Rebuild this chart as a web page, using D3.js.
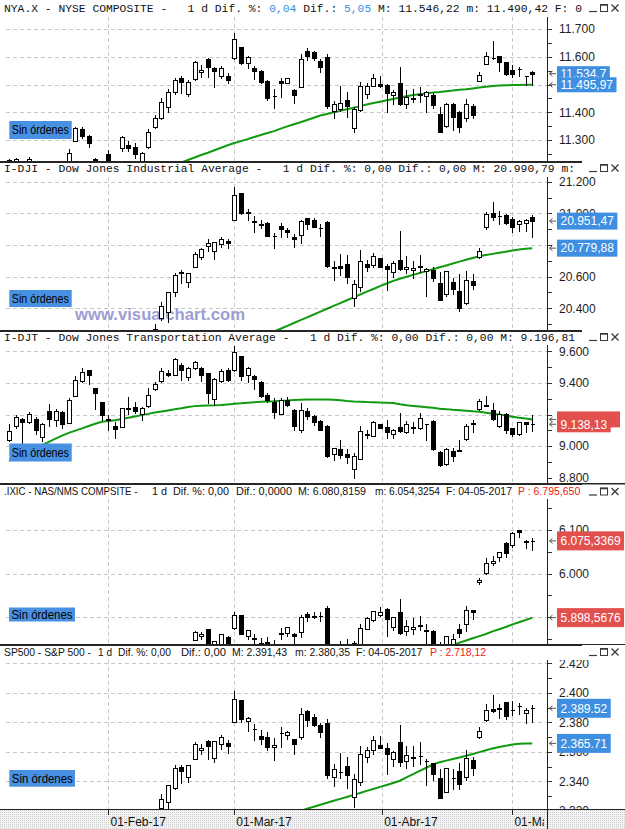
<!DOCTYPE html>
<html><head><meta charset="utf-8">
<script src="https://cdn.jsdelivr.net/npm/d3@7/dist/d3.min.js"></script>
<style>
html,body{margin:0;padding:0;background:#fff;}
svg{display:block;}
</style></head><body>
<svg id="chart" width="625" height="829"></svg>
<script>
// ---------- DATA ----------
const dates = ["2017-01-10","2017-01-11","2017-01-12","2017-01-13","2017-01-17","2017-01-18","2017-01-19","2017-01-20","2017-01-23","2017-01-24","2017-01-25","2017-01-26","2017-01-27","2017-01-30","2017-01-31",
"2017-02-01","2017-02-02","2017-02-03","2017-02-06","2017-02-07","2017-02-08","2017-02-09","2017-02-10","2017-02-13","2017-02-14","2017-02-15","2017-02-16","2017-02-17","2017-02-21","2017-02-22","2017-02-23","2017-02-24","2017-02-27","2017-02-28",
"2017-03-01","2017-03-02","2017-03-03","2017-03-06","2017-03-07","2017-03-08","2017-03-09","2017-03-10","2017-03-13","2017-03-14","2017-03-15","2017-03-16","2017-03-17","2017-03-20","2017-03-21","2017-03-22","2017-03-23","2017-03-24","2017-03-27","2017-03-28","2017-03-29","2017-03-30","2017-03-31",
"2017-04-03","2017-04-04","2017-04-05","2017-04-06","2017-04-07","2017-04-10","2017-04-11","2017-04-12","2017-04-13","2017-04-17","2017-04-18","2017-04-19","2017-04-20","2017-04-21","2017-04-24","2017-04-25","2017-04-26","2017-04-27","2017-04-28",
"2017-05-01","2017-05-02","2017-05-03","2017-05-04"];

const monthTicks = ["2017-02-01","2017-03-01","2017-04-01","2017-05-01"];
const monthLabels = ["01-Feb-17","01-Mar-17","01-Abr-17","01-May-17"];

// NYSE Composite
const nyaOpen = [11210,11212,11215,11215,11215,11205,11210,11200,11210,11222,11298,11340,11314,11232,11210,11248,11215,11270,11282,11274,11222,11276,11348,11378,11420,11472,11525,11466,11519,11544,11591,11561,11532,11531,11594,11634,11576,11561,11549,11513,11460,11513,11507,11480,11492,11621,11616,11585,11598,11406,11411,11444,11342,11407,11465,11496,11502,11498,11462,11504,11429,11447,11462,11457,11462,11394,11352,11429,11402,11378,11424,11514,11575,11595,11601,11580,11552,11557,11531,11544];
const nyaHigh = [11232,11236,11220,11240,11220,11220,11215,11222,11218,11268,11346,11347,11318,11236,11225,11264,11225,11316,11296,11288,11256,11340,11390,11450,11483,11525,11531,11516,11585,11570,11594,11564,11568,11540,11684,11636,11601,11568,11552,11515,11484,11522,11525,11482,11609,11630,11621,11591,11609,11441,11495,11472,11420,11508,11504,11537,11531,11501,11480,11562,11480,11484,11492,11477,11468,11420,11432,11432,11405,11448,11429,11544,11616,11657,11602,11581,11570,11564,11532,11549];
const nyaLow = [11205,11200,11180,11210,11190,11195,11180,11195,11195,11215,11295,11308,11276,11195,11190,11205,11200,11260,11260,11234,11215,11272,11345,11374,11402,11466,11468,11460,11515,11528,11528,11491,11522,11504,11592,11573,11561,11519,11504,11444,11414,11456,11504,11432,11490,11588,11588,11544,11417,11378,11406,11384,11330,11405,11450,11494,11492,11400,11429,11426,11414,11436,11438,11400,11414,11328,11348,11336,11330,11368,11378,11512,11573,11592,11550,11534,11527,11531,11498,11498];
const nyaClose = [11228,11231,11205,11232,11200,11215,11190,11215,11205,11252,11342,11316,11288,11210,11220,11215,11222,11312,11270,11248,11252,11328,11378,11436,11472,11515,11508,11510,11580,11552,11562,11549,11561,11516,11664,11579,11598,11550,11510,11453,11458,11504,11522,11462,11591,11604,11594,11562,11424,11429,11432,11424,11412,11495,11496,11522,11495,11468,11472,11429,11456,11450,11465,11474,11426,11330,11429,11384,11348,11429,11390,11533,11604,11594,11582,11539,11539,11556,11531,11539];
const nyaMA = [null,null,null,null,null,null,null,null,null,null,null,null,null,null,null,null,null,null,null,null,null,null,null,null,null,null,
11219,11228,11237,11246,11254,11263,11272,11281,11289,11296,11303,11311,11318,11325,11332,11341,11349,11357,11364,11372,11380,11388,11394,11400,11405,11411,11416,11422,11428,11433,11438,11443,11448,11453,11458,11462,11465,11468,11471,11473,11476,11478,11481,11483,11486,11489,11492,11495,11496,11497,11498,11498,11499,11499];
const nyaTicks = [11300,11400,11500,11600,11700];
const nyaBoxLabels = ["11.534,7","11.495,97"];

// Dow Jones Industrial
const djiOpen = [19876,19887,19926,19913,19844,19833,19818,19795,19795,19795,19994,20077,20107,20029,19913,19924,19861,19964,20026,20108,20050,20062,20211,20339,20374,20504,20627,20564,20663,20723,20796,20765,20809,20826,20957,21129,21002,20948,20935,20941,20860,20920,20893,20848,20861,20970,20957,20907,20944,20656,20668,20680,20468,20534,20682,20673,20716,20665,20628,20708,20647,20642,20665,20634,20640,20560,20488,20565,20510,20431,20573,20723,20915,21004,20986,20990,20963,20930,20938,20975];
const djiHigh = [19958,19973,19929,19945,19879,19848,19846,19844,19834,19949,20082,20126,20116,20029,19913,19968,19902,20081,20094,20155,20068,20206,20298,20441,20504,20620,20640,20624,20758,20781,20841,20822,20851,20836,21169,21129,21029,20983,20958,20946,20878,20942,20906,20869,20958,20970,20969,20933,20953,20697,20745,20735,20580,20767,20706,20747,20716,20679,20699,20888,20728,20698,20735,20652,20663,20629,20637,20591,20617,20638,20614,20779,21007,21071,21017,20995,20976,20956,20967,20991];
const djiLow = [19855,19822,19761,19860,19785,19754,19678,19759,19732,19787,19980,20061,20064,19856,19831,19845,19800,19964,20004,20069,19991,20062,20205,20323,20312,20477,20557,20533,20663,20711,20759,20714,20790,20780,20957,20997,20960,20881,20908,20856,20778,20849,20848,20787,20814,20901,20911,20858,20663,20580,20612,20562,20413,20511,20637,20664,20658,20518,20599,20643,20622,20592,20629,20478,20572,20453,20477,20488,20382,20426,20521,20715,20900,20956,20932,20935,20881,20889,20888,20851];
const djiClose = [19856,19954,19891,19886,19827,19805,19732,19827,19800,19913,20069,20101,20094,19971,19864,19891,19885,20071,20052,20090,20054,20172,20269,20412,20504,20612,20620,20624,20743,20776,20810,20822,20837,20812,21116,21003,21006,20954,20925,20856,20858,20903,20881,20837,20950,20935,20915,20906,20668,20661,20657,20597,20551,20702,20659,20728,20663,20650,20689,20648,20663,20656,20658,20651,20592,20453,20637,20523,20404,20579,20548,20764,20996,20975,20981,20941,20913,20950,20958,20951];
const djiMA = [null,null,null,null,null,null,null,null,null,null,null,null,null,null,null,null,null,null,null,null,null,null,null,null,null,null,null,null,null,null,null,null,null,null,null,null,null,null,null,null,
20253,20271,20289,20307,20325,20343,20361,20379,20397,20415,20433,20451,20469,20487,20505,20522,20540,20557,20573,20587,20599,20611,20623,20635,20647,20659,20671,20683,20695,20707,20718,20729,20737,20744,20751,20758,20765,20771,20776,20780];
const djiTicks = [20400,20600,20800,21000,21200];
const djiBoxLabels = ["20.951,47","20.779,88"];

// Dow Jones Transportation
const djtOpen = [9038,9126,9171,9152,9173,9057,9225,9164,9217,9147,9320,9411,9480,9368,9278,9170,9126,9122,9240,9248,9206,9253,9362,9411,9463,9453,9516,9438,9495,9495,9463,9295,9411,9484,9480,9568,9448,9446,9404,9326,9278,9206,9291,9227,9101,9221,9190,9158,9126,8947,8983,8952,8853,8920,9078,9067,9137,9122,9074,9122,9089,9120,9116,9141,9158,8962,8884,8968,8972,9042,9140,9232,9259,9227,9126,9206,9116,9074,9152,9137];
const djtHigh = [9141,9196,9177,9215,9185,9147,9267,9232,9221,9305,9442,9495,9484,9370,9280,9200,9152,9242,9312,9278,9248,9368,9404,9495,9484,9558,9526,9501,9537,9501,9465,9432,9488,9495,9636,9570,9501,9453,9411,9337,9305,9305,9312,9232,9270,9242,9200,9164,9131,8991,9038,8983,8958,9126,9101,9158,9139,9164,9110,9211,9158,9152,9211,9142,9164,8968,8990,8990,9038,9137,9164,9299,9320,9274,9221,9211,9117,9152,9153,9197];
const djtLow = [9032,9116,8968,9147,9074,9032,9126,9126,9116,9145,9318,9404,9396,9232,9164,9101,9053,9120,9206,9210,9164,9248,9358,9404,9442,9450,9421,9421,9488,9411,9274,9263,9408,9411,9474,9421,9404,9362,9312,9278,9179,9204,9253,9101,9089,9169,9131,9101,8933,8912,8926,8895,8800,8918,9053,9063,9113,9053,9053,9089,9080,9080,9110,9038,8975,8876,8882,8905,8968,9038,9089,9227,9253,9164,9122,9080,9067,9071,9089,9095];
const djtClose = [9095,9185,9152,9204,9105,9141,9173,9221,9143,9291,9417,9467,9448,9333,9194,9167,9110,9238,9237,9221,9242,9326,9396,9474,9448,9552,9480,9495,9531,9453,9337,9425,9474,9421,9594,9442,9495,9425,9316,9291,9215,9291,9257,9126,9227,9190,9152,9105,8937,8990,8941,8933,8937,9095,9070,9152,9116,9089,9101,9095,9137,9114,9179,9140,8979,8878,8983,8937,8978,9126,9145,9284,9255,9169,9206,9101,9074,9152,9137,9138];
const djtMA = [8907,8928,8947,8967,8987,9007,9027,9047,9066,9084,9098,9112,9127,9141,9154,9159,9164,9172,9180,9188,9196,9204,9212,9219,9226,9233,9239,9247,9253,9255,9257,9258,9260,9264,9268,9271,9275,9278,9280,9282,9284,9287,9289,9292,9294,9295,9295,9295,9295,9294,9290,9286,9283,9281,9279,9278,9276,9275,9273,9265,9258,9254,9250,9246,9242,9237,9234,9230,9227,9224,9220,9217,9211,9205,9200,9193,9186,9179,9174,9169];
const djtTicks = [8800,9000,9200,9400,9600];
const djtBoxLabels = ["9.138,13",""];

// Nasdaq Composite
const ixicOpen = [5532,5553,5545,5558,5562,5548,5556,5557,5549,5561,5630,5664,5669,5634,5588,5654,5620,5660,5655,5677,5665,5687,5722,5745,5756,5778,5817,5798,5848,5857,5872,5802,5834,5853,5874,5905,5856,5851,5840,5843,5836,5864,5863,5861,5866,5906,5903,5903,5920,5789,5815,5833,5774,5834,5873,5894,5905,5919,5878,5912,5868,5872,5880,5870,5867,5828,5815,5836,5872,5883,5917,5980,6001,6024,6038,6070,6065,6100,6074,6075];
const ixicHigh = [5566,5564,5548,5577,5567,5556,5561,5568,5566,5606,5657,5669,5669,5634,5615,5669,5644,5668,5668,5686,5684,5723,5743,5770,5783,5819,5821,5839,5867,5866,5872,5845,5862,5856,5911,5905,5871,5860,5852,5853,5848,5875,5877,5863,5904,5911,5912,5911,5926,5830,5844,5850,5844,5885,5899,5914,5922,5920,5899,5941,5894,5897,5902,5883,5870,5842,5857,5861,5885,5925,5917,5990,6035,6040,6050,6073,6095,6101,6078,6081];
const ixicLow = [5530,5519,5506,5556,5528,5535,5528,5541,5531,5558,5630,5647,5647,5583,5578,5622,5612,5649,5651,5665,5663,5685,5720,5744,5748,5771,5793,5798,5846,5849,5813,5797,5831,5818,5873,5860,5849,5826,5825,5829,5818,5849,5857,5833,5855,5890,5898,5890,5790,5785,5806,5810,5769,5830,5872,5891,5903,5856,5869,5862,5858,5862,5869,5822,5831,5805,5812,5832,5855,5867,5896,5975,6000,6019,6029,6037,6061,6084,6058,6054];
const ixicClose = [5552,5564,5547,5574,5539,5556,5540,5555,5553,5601,5656,5655,5661,5614,5615,5643,5636,5667,5664,5674,5682,5715,5734,5764,5783,5819,5815,5839,5866,5861,5836,5845,5862,5825,5904,5861,5871,5849,5834,5838,5839,5862,5876,5857,5900,5901,5901,5902,5794,5822,5818,5829,5840,5875,5898,5914,5912,5895,5899,5864,5879,5878,5881,5867,5836,5805,5857,5849,5863,5917,5911,5984,6025,6028,6049,6048,6092,6095,6073,6075];
const ixicMA = [null,null,null,null,null,null,null,null,null,null,null,null,null,null,null,null,null,null,null,null,null,null,null,null,null,null,null,null,null,null,null,null,null,null,null,null,null,null,null,null,null,null,null,null,null,null,null,null,null,null,null,null,null,null,null,null,null,null,null,null,null,null,null,null,null,null,
5831,5836,5841,5846,5851,5856,5861,5867,5872,5877,5883,5888,5893,5898.57];
const ixicTicks = [5900,6000,6100];
const ixicBoxLabels = ["6.075,3369","5.898,5676"];

// S&P 500
const spxOpen = [2268.6,2268.4,2271.1,2272.7,2269.1,2269.1,2271.9,2270.0,2267.8,2267.9,2288.9,2298.6,2299.0,2286.0,2274.0,2285.6,2276.7,2288.5,2294.3,2295.9,2289.6,2296.7,2312.3,2321.7,2326.1,2335.6,2349.6,2343.0,2354.9,2361.1,2367.5,2355.7,2365.2,2366.1,2380.1,2394.8,2380.9,2375.2,2370.7,2369.8,2363.5,2372.5,2371.6,2368.6,2370.3,2387.7,2383.7,2378.2,2379.3,2343.0,2346.0,2350.4,2329.1,2339.8,2356.5,2361.3,2364.8,2362.3,2354.8,2366.6,2353.8,2356.6,2357.2,2353.9,2352.2,2342.0,2332.6,2342.5,2346.8,2342.7,2354.7,2370.3,2381.5,2389.0,2389.7,2393.7,2388.5,2391.1,2386.5,2389.8];
const spxHigh = [2279.3,2275.5,2271.8,2278.7,2272.1,2272.0,2274.3,2277.0,2271.8,2284.6,2299.6,2301.0,2299.0,2286.0,2279.1,2289.1,2284.0,2298.3,2296.2,2299.4,2295.9,2311.1,2319.2,2331.6,2337.6,2351.3,2351.3,2351.2,2366.7,2365.1,2368.3,2367.3,2371.5,2367.8,2401.0,2394.8,2383.9,2378.8,2375.1,2373.1,2369.1,2376.9,2374.4,2368.6,2390.0,2388.1,2385.7,2379.6,2381.9,2351.8,2358.9,2356.2,2344.9,2363.8,2363.4,2370.4,2370.4,2365.9,2360.5,2378.4,2364.2,2363.8,2366.4,2355.2,2352.7,2348.3,2349.1,2348.4,2352.6,2361.4,2356.2,2377.0,2392.5,2398.2,2392.1,2393.7,2394.5,2392.9,2389.8,2391.4];
const spxLow = [2265.3,2260.8,2254.3,2271.5,2262.8,2263.4,2258.4,2265.0,2257.0,2266.7,2288.9,2294.1,2291.6,2268.0,2267.2,2272.4,2271.7,2287.9,2288.6,2290.2,2285.4,2296.6,2311.1,2321.4,2322.2,2334.8,2338.9,2339.6,2354.9,2358.3,2355.1,2352.9,2361.9,2359.0,2380.1,2380.2,2374.4,2368.0,2365.5,2361.0,2354.5,2363.0,2368.5,2358.2,2368.9,2377.2,2377.6,2369.7,2341.9,2336.5,2342.1,2335.7,2322.3,2337.6,2352.9,2358.6,2362.6,2344.7,2350.7,2350.5,2348.9,2350.7,2351.5,2337.3,2341.2,2329.0,2332.5,2334.5,2335.1,2340.9,2344.5,2369.2,2381.2,2386.8,2382.7,2382.4,2384.8,2385.8,2379.8,2380.4];
const spxClose = [2268.9,2275.3,2270.4,2274.6,2267.9,2271.9,2263.7,2271.3,2265.2,2280.1,2298.4,2296.7,2294.7,2280.9,2278.9,2279.6,2280.9,2297.4,2292.6,2293.1,2294.7,2307.9,2316.1,2328.3,2337.6,2349.3,2347.2,2351.2,2365.4,2362.8,2363.8,2367.3,2369.8,2363.6,2396.0,2381.9,2383.1,2375.3,2368.4,2363.0,2364.9,2372.6,2373.5,2365.5,2385.3,2381.4,2378.3,2373.5,2344.0,2348.5,2346.0,2344.0,2341.6,2358.6,2361.1,2368.1,2362.7,2358.8,2360.2,2353.0,2357.5,2355.5,2357.2,2353.8,2344.9,2329.0,2349.0,2342.2,2338.2,2355.8,2348.7,2374.2,2388.6,2387.5,2388.8,2384.2,2388.3,2391.2,2388.1,2389.5];
const spxMA = [null,null,null,null,null,null,null,null,null,null,null,null,null,null,null,null,null,null,null,null,null,null,null,null,null,null,null,null,null,null,null,null,null,null,null,null,null,null,null,null,null,null,null,null,
2320.0,2321.4,2322.7,2324.1,2325.4,2326.8,2328.1,2329.4,2330.8,2332.1,2333.5,2334.8,2336.2,2337.5,2338.9,2340.4,2342.6,2344.8,2347.0,2349.2,2351.5,2352.9,2354.0,2355.1,2356.2,2357.3,2358.5,2359.8,2361.0,2362.3,2363.3,2364.1,2364.9,2365.5,2365.6,2365.7];
const spxTicks = [2320,2340,2360,2380,2400,2420];
const spxBoxLabels = ["2.389.52","2.365.71"];

// Title texts
const nyaTitle = [["NYA.X - NYSE COMPOSITE -   1 d Dif. %: ","#111"],["0,04","#3a8ee6"],[" Dif.: ","#111"],["5,05","#3a8ee6"],[" M: 11.546,22 m: 11.490,42 F: 0","#111"]];
const djiTitle = [["I-DJI - Dow Jones Industrial Average -   1 d Dif. %: 0,00 Dif.: 0,00 M: 20.990,79 m:","#111"]];
const djtTitle = [["I-DJT - Dow Jones Transportation Average -   1 d Dif. %: 0,00 Dif.: 0,00 M: 9.196,81","#111"]];
const ixicTitle = [".IXIC - NAS/NMS COMPSITE -","1 d","Dif. %: 0,00","Dif.: 0,0000","M: 6.080,8159","m: 6.054,3254","F: 04-05-2017","P : 6.795,650"];
const spxTitle = ["SP500 - S&P 500 -","1 d","Dif. %: 0,00","Dif.: 0,00","M: 2.391,43","m: 2.380,35","F: 04-05-2017","P : 2.718,12"];
const sinText = "Sin órdenes";
const watermark = "www.visualchart.com";

// ---------- LAYOUT ----------
const W = 625, H = 829, AX = 547;
const sans = '"Liberation Sans", Arial, sans-serif';
const mono = '"Liberation Mono", "Courier New", monospace';
const BLUE = "#3e8fe2", RED = "#e2504d", GREEN = "#0f9a10";

const panels = [
  {o:nyaOpen,h:nyaHigh,l:nyaLow,c:nyaClose,ma:nyaMA,ticks:nyaTicks,minor:50,boxes:nyaBoxLabels,boxColor:BLUE,boxH:15,
   titleTop:0,cy:8,top:17,bottom:161,dom:[11300,11700],rng:[140,29],mono:true,title:nyaTitle,titleW:578,sin:[9.3,121,62.4,18,57]},
  {o:djiOpen,h:djiHigh,l:djiLow,c:djiClose,ma:djiMA,ticks:djiTicks,minor:100,boxes:djiBoxLabels,boxColor:BLUE,boxH:17,
   titleTop:161,cy:168,top:177,bottom:330,dom:[20400,21200],rng:[308.3,181.7],mono:true,title:djiTitle,titleW:571,sin:[9.3,290,62.4,17,57],wm:true},
  {o:djtOpen,h:djtHigh,l:djtLow,c:djtClose,ma:djtMA,ticks:djtTicks,minor:100,boxes:djtBoxLabels,boxColor:RED,boxH:16,
   titleTop:330,cy:337,top:345,bottom:483,dom:[8800,9600],rng:[477.7,351.3],mono:true,title:djtTitle,titleW:571,sin:[9.3,443.5,62.4,18,57]},
  {o:ixicOpen,h:ixicHigh,l:ixicLow,c:ixicClose,ma:ixicMA,ticks:ixicTicks,minor:50,boxes:ixicBoxLabels,boxColor:RED,boxH:19,
   titleTop:483,cy:491.5,top:499,bottom:644,dom:[5900,6100],rng:[617,530],mono:false,title:ixicTitle,
   tx:[4,152,173,236,298,375,446,518],tw:[133.5,15,56,56,68,65,66,null],sin:[9,607.5,66,14,61]},
  {o:spxOpen,h:spxHigh,l:spxLow,c:spxClose,ma:spxMA,ticks:spxTicks,minor:10,boxes:spxBoxLabels,boxColor:BLUE,boxH:19,
   titleTop:644,cy:652,top:660,bottom:809,dom:[2340,2420],rng:[781.3,663.3],mono:false,title:spxTitle,
   tx:[4,98,118,181,232,295,356,430],tw:[87,14,53,45,55,55,66.5,56],sin:[9.3,770,65.7,16.7,61]}
];

const svg = d3.select("#chart");
const defs = svg.append("defs");
svg.append("rect").attr("width",W).attr("height",H).attr("fill","#fff");

// dithered pattern for the date strip
const pat = defs.append("pattern").attr("id","dith").attr("width",2).attr("height",2).attr("patternUnits","userSpaceOnUse");
pat.append("rect").attr("width",2).attr("height",2).attr("fill","#f3f3f3");
pat.append("rect").attr("width",1).attr("height",1).attr("fill","#cfcfcf");

const x = d3.scalePoint().domain(dates).range([9.15, 532.3]);
const dayMs = dates.map(d => Date.parse(d + "T00:00:00Z"));
function dateX(s){
  const t = Date.parse(s + "T00:00:00Z");
  const i = d3.bisectLeft(dayMs, t);
  if (dayMs[i] === t) return x(dates[i]);
  const a = i - 1;
  return x(dates[a]) + (x(dates[i]) - x(dates[a])) * (t - dayMs[a]) / (dayMs[i] - dayMs[a]);
}
const fmt = d3.formatLocale({decimal:",",thousands:".",grouping:[3],currency:["",""]}).format(",");
const monthX = monthTicks.map(dateX);

panels.forEach((p, pi) => {
  const y = d3.scaleLinear().domain(p.dom).range(p.rng);
  const g = svg.append("g");
  const cid = "clip" + pi, aid = "aclip" + pi;
  defs.append("clipPath").attr("id",cid).append("rect").attr("x",0).attr("y",p.top).attr("width",AX).attr("height",p.bottom-p.top);
  defs.append("clipPath").attr("id",aid).append("rect").attr("x",AX).attr("y",p.top).attr("width",W-AX).attr("height",p.bottom-p.top);

  const plot = g.append("g").attr("clip-path",`url(#${cid})`);
  // horizontal grid
  const gridVals = p.ticks.filter(t => y(t) > p.top + 3 && y(t) < p.bottom - 6);
  plot.selectAll(".hg").data(gridVals).join("line")
    .attr("x1",6).attr("x2",AX).attr("y1",d=>Math.round(y(d))+0.5).attr("y2",d=>Math.round(y(d))+0.5)
    .attr("stroke","#c9c6cc").attr("stroke-dasharray","4,3").attr("shape-rendering","crispEdges");
  // vertical grid
  plot.selectAll(".vg").data(monthX).join("line")
    .attr("x1",d=>Math.round(d)+0.5).attr("x2",d=>Math.round(d)+0.5).attr("y1",p.top).attr("y2",p.bottom)
    .attr("stroke","#c9c6cc").attr("stroke-dasharray","4,3").attr("shape-rendering","crispEdges");

  if (p.wm) {
    plot.append("text").attr("x",75).attr("y",320).text(watermark)
      .attr("font-family",sans).attr("font-weight","bold").attr("font-size",16.5)
      .attr("textLength",170).attr("lengthAdjust","spacingAndGlyphs").attr("fill","#9d9dd2");
  }

  // moving average
  const line = d3.line().defined(d => d != null).x((d,i) => x(dates[i])).y(d => y(d));
  plot.append("path").attr("d",line(p.ma)).attr("fill","none").attr("stroke",GREEN).attr("stroke-width",2);

  // candles
  const idx = d3.range(dates.length);
  const cg = plot.append("g").attr("shape-rendering","crispEdges");
  cg.selectAll(".wick").data(idx).join("line")
    .attr("x1",i=>Math.round(x(dates[i]))+0.5).attr("x2",i=>Math.round(x(dates[i]))+0.5)
    .attr("y1",i=>Math.round(y(p.h[i]))).attr("y2",i=>Math.round(y(p.l[i]))+1)
    .attr("stroke","#000").attr("stroke-width",1);
  cg.selectAll(".body").data(idx).join("path")
    .attr("d",i=>{
      const cx = Math.round(x(dates[i]));
      const yt = Math.round(y(Math.max(p.o[i],p.c[i]))) + 0.5;
      const yb = Math.round(y(Math.min(p.o[i],p.c[i]))) + 0.5;
      return `M${cx-1.5},${yt}H${cx+2.5}V${yb}H${cx-1.5}Z`;
    })
    .attr("fill",i=>p.c[i] >= p.o[i] ? "#fff" : "#000").attr("stroke","#000").attr("stroke-width",1);

  // "Sin órdenes" box
  const [sx,sy,sw,sh,stw] = p.sin;
  g.append("rect").attr("x",sx).attr("y",sy).attr("width",sw).attr("height",sh).attr("fill","#4790e2");
  g.append("text").attr("x",sx+2.5).attr("y",sy+sh/2+4.2).text(sinText)
    .attr("font-family",sans).attr("font-size",12).attr("fill","#000")
    .attr("textLength",stw).attr("lengthAdjust","spacingAndGlyphs");

  // right value axis
  const ag = g.append("g").attr("clip-path",`url(#${aid})`);
  const minorVals = d3.range(Math.ceil(y.invert(p.bottom)/p.minor)*p.minor, y.invert(p.top), p.minor);
  ag.selectAll(".tk").data(minorVals).join("line")
    .attr("x1",AX).attr("x2",AX+5).attr("y1",d=>Math.round(y(d))+0.5).attr("y2",d=>Math.round(y(d))+0.5)
    .attr("stroke","#333").attr("shape-rendering","crispEdges");

  // value boxes (last close, last MA)
  const vals = [p.c[p.c.length-1], p.ma[p.ma.length-1]];
  const items = vals.map((v,k)=>({v, t:p.boxes[k], yy:y(v)})).sort((a,b)=>a.yy-b.yy);
  // tick labels; those fully hidden behind a value box are not drawn
  const visibleTicks = p.ticks.filter(t => !items.some(it => Math.abs(y(t) - it.yy) < p.boxH/2 - 2.5));
  ag.selectAll(".tl").data(visibleTicks).join("text")
    .attr("x",AX+12).attr("y",d=>y(d)+4.3).text(d=>fmt(d))
    .attr("font-family",sans).attr("font-size",12).attr("fill","#1e1e1e");

  items.forEach(it => {
    const bg = ag.append("g");
    const r = bg.append("rect").attr("x",AX+10).attr("y",it.yy-p.boxH/2).attr("height",p.boxH).attr("fill",p.boxColor);
    const t = bg.append("text").attr("x",AX+13.5).attr("y",it.yy+4.3).text(it.t)
      .attr("font-family",sans).attr("font-size",12).attr("fill","#fff");
    const tw = it.t ? t.node().getComputedTextLength() : 56;
    r.attr("width",tw+7);
    ag.append("path").attr("d",`M${AX+9},${it.yy}H${AX+2.5}M${AX+5.5},${it.yy-2.5}L${AX+2.5},${it.yy}L${AX+5.5},${it.yy+2.5}`)
      .attr("fill","none").attr("stroke","#555").attr("stroke-width",1);
  });

  // axis line
  g.append("line").attr("x1",AX+0.5).attr("x2",AX+0.5).attr("y1",p.top).attr("y2",p.bottom)
    .attr("stroke","#222").attr("shape-rendering","crispEdges");

  // title bar
  if (p.titleTop > 0) {
    g.append("rect").attr("x",0).attr("y",p.titleTop).attr("width",W).attr("height",2).attr("fill","#262626");
  }
  if (p.mono) {
    const tt = g.append("text").attr("x",4).attr("y",p.cy+3.6)
      .attr("font-family",mono).attr("font-size",11.4).style("white-space","pre")
      .attr("textLength",p.titleW).attr("lengthAdjust","spacingAndGlyphs");
    p.title.forEach(([s,col]) => tt.append("tspan").text(s).attr("fill",col));
  } else {
    p.title.forEach((s,k) => {
      const t = g.append("text").attr("x",p.tx[k]).attr("y",p.cy+3.8).text(s)
        .attr("font-family",sans).attr("font-size",10.5)
        .attr("fill", k === p.title.length-1 ? "#f01818" : "#111");
      if (p.tw[k]) t.attr("textLength",p.tw[k]).attr("lengthAdjust","spacingAndGlyphs");
    });
  }
  // window buttons
  const by = p.cy;
  g.append("rect").attr("x",582).attr("y",by-7).attr("width",W-582).attr("height",14).attr("fill","#fff");
  const bcol = "#3a3a3a";
  g.append("line").attr("x1",589).attr("x2",597).attr("y1",by+3.5).attr("y2",by+3.5).attr("stroke",bcol).attr("stroke-width",1.2);
  g.append("rect").attr("x",600.5).attr("y",by-3.5).attr("width",7).attr("height",7).attr("fill","none").attr("stroke",bcol);
  g.append("line").attr("x1",600.5).attr("x2",607.5).attr("y1",by-3).attr("y2",by-3).attr("stroke",bcol).attr("stroke-width",1.5);
  g.append("path").attr("d",`M611.5,${by-3.5}L618.5,${by+3.5}M618.5,${by-3.5}L611.5,${by+3.5}`).attr("stroke",bcol).attr("stroke-width",1.3);
});

// date strip
const band = svg.append("g");
band.append("rect").attr("x",0).attr("y",809).attr("width",W).attr("height",H-809).attr("fill","url(#dith)");
band.append("line").attr("x1",0).attr("x2",W).attr("y1",809.5).attr("y2",809.5).attr("stroke","#222").attr("shape-rendering","crispEdges");
band.append("line").attr("x1",AX+0.5).attr("x2",AX+0.5).attr("y1",809).attr("y2",H).attr("stroke","#222").attr("shape-rendering","crispEdges");
defs.append("clipPath").attr("id","bclip").append("rect").attr("x",0).attr("y",809).attr("width",AX-3).attr("height",H-809);
const bl = band.append("g").attr("clip-path","url(#bclip)");
bl.selectAll(".mt").data(monthX).join("line")
  .attr("x1",d=>Math.round(d)+0.5).attr("x2",d=>Math.round(d)+0.5).attr("y1",809).attr("y2",815)
  .attr("stroke","#222").attr("shape-rendering","crispEdges");
bl.selectAll(".ml").data(monthLabels).join("text")
  .attr("x",(d,i)=>monthX[i]+2).attr("y",826).text(d=>d)
  .attr("font-family",sans).attr("font-size",12).attr("fill","#111");
</script>
</body></html>
